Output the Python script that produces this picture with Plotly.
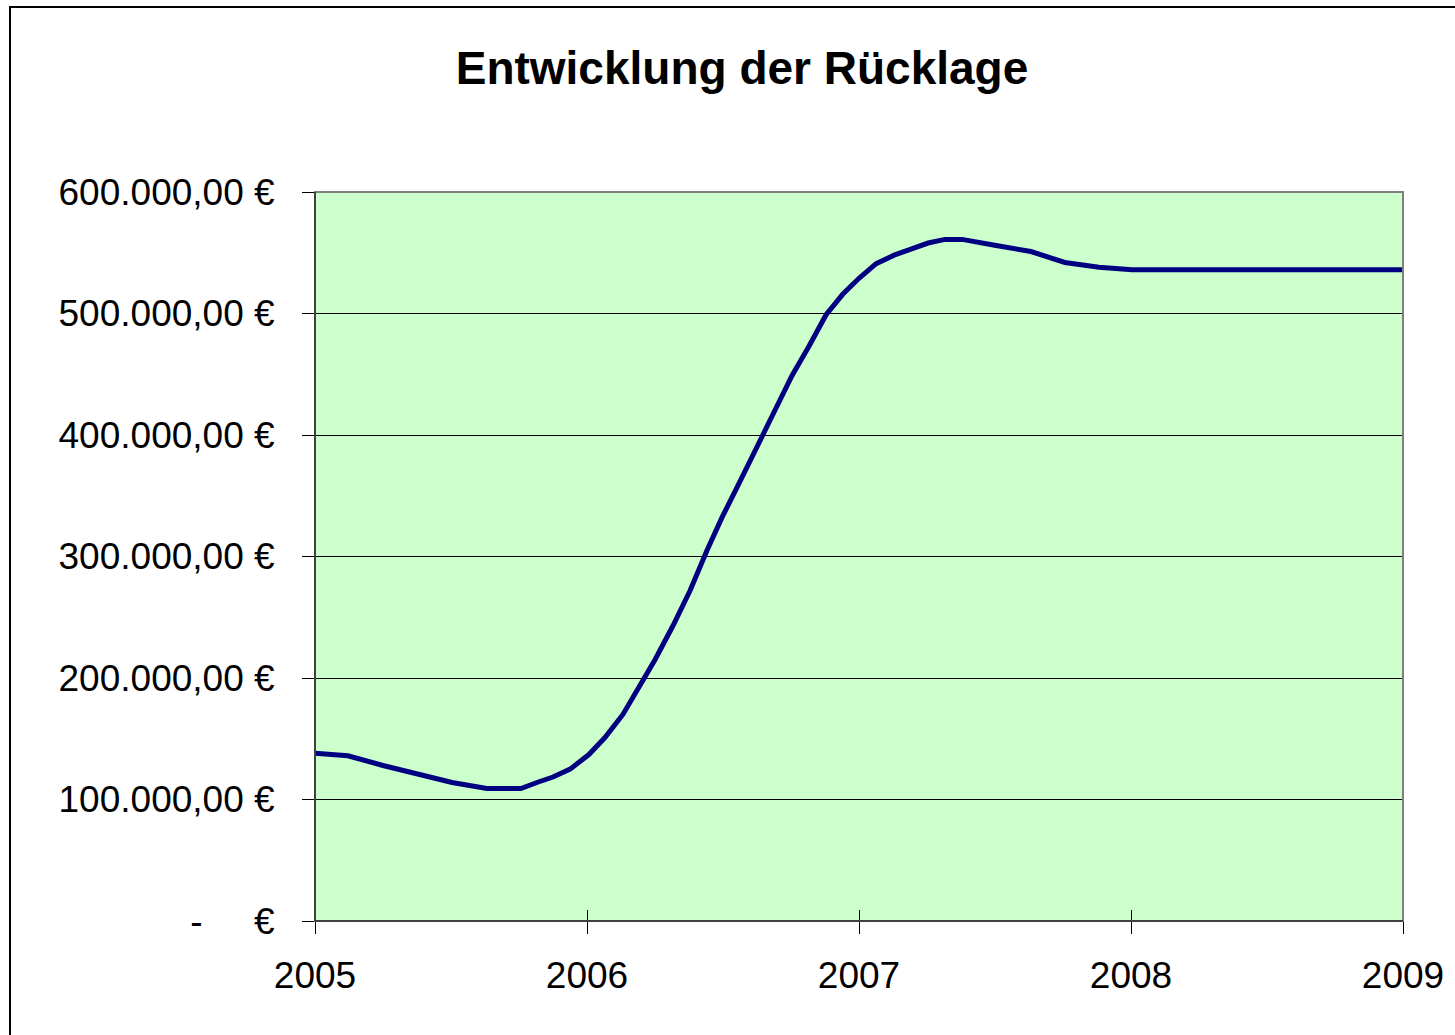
import plotly.graph_objects as go

# Data (x in decimal years, y in EUR)
years = [2005.000, 2005.121, 2005.250, 2005.379, 2005.504, 2005.632, 2005.757,
         2005.816, 2005.875, 2005.938, 2006.007, 2006.066, 2006.132, 2006.195,
         2006.250, 2006.316, 2006.379, 2006.441, 2006.496, 2006.563, 2006.625,
         2006.691, 2006.754, 2006.816, 2006.879, 2006.941, 2007.000, 2007.063,
         2007.129, 2007.191, 2007.254, 2007.316, 2007.379, 2007.504, 2007.632,
         2007.757, 2007.882, 2008.004, 2009.000]
ruecklage = [138000, 136000, 128000, 121000, 114000, 109000, 109000,
             114000, 118500, 125000, 137000, 151000, 170000, 194000,
             215000, 243000, 272000, 305000, 332000, 362000, 391000,
             420000, 449000, 473000, 499000, 516000, 529000, 541000,
             548000, 553000, 558000, 561000, 561000, 556000, 551000,
             542000, 538000, 536000, 536000]

x_ticks = [2005, 2006, 2007, 2008, 2009]
x_tick_labels = ["2005", "2006", "2007", "2008", "2009"]
y_ticks = [0, 100000, 200000, 300000, 400000, 500000, 600000]
y_tick_labels = ["-\u00a0\u00a0\u00a0\u00a0\u00a0€", "100.000,00 €", "200.000,00 €",
                 "300.000,00 €", "400.000,00 €", "500.000,00 €", "600.000,00 €"]

FONT = "Liberation Sans, Arial, sans-serif"
W, H = 1455, 1035

fig = go.Figure()
fig.add_trace(go.Scatter(
    x=years, y=ruecklage, mode="lines",
    line=dict(color="#000080", width=5),
    showlegend=False, hoverinfo="skip",
))
# invisible trace for the second (inside-tick) x axis
fig.add_trace(go.Scatter(x=[2005, 2009], y=[0, 0], xaxis="x2", mode="none",
                         showlegend=False, hoverinfo="skip"))

fig.update_layout(
    width=W, height=H,
    margin=dict(l=315, r=52, t=192, b=114, autoexpand=False),
    paper_bgcolor="white",
    plot_bgcolor="#CCFFCC",
    font=dict(family=FONT, size=37, color="black"),
    title=dict(text="<b>Entwicklung der Rücklage</b>", x=742 / W, xanchor="center",
               y=1 - 68 / H, yanchor="middle",
               font=dict(family=FONT, size=46, color="black")),
    xaxis=dict(range=[2005, 2009], tickvals=x_ticks, ticktext=x_tick_labels,
               showgrid=False, zeroline=False, showline=True, linecolor="black",
               linewidth=1, ticks="outside", ticklen=12, tickcolor="black",
               tickwidth=1, ticklabelstandoff=10),
    xaxis2=dict(range=[2005, 2009], overlaying="x", anchor="y", side="bottom",
                tickvals=x_ticks, showticklabels=False, showgrid=False,
                zeroline=False, showline=False, ticks="inside", ticklen=11,
                tickcolor="black", tickwidth=1),
    yaxis=dict(range=[0, 600000], tickvals=y_ticks, ticktext=y_tick_labels,
               showgrid=True, gridcolor="black", gridwidth=1, zeroline=False,
               showline=True, linecolor="black", linewidth=1,
               ticks="outside", ticklen=12, tickcolor="black", tickwidth=1,
               ticklabelstandoff=20),
    shapes=[
        # gray plot-area frame (top and right)
        dict(type="rect", xref="paper", yref="paper", x0=0, x1=1, y0=0, y1=1,
             line=dict(color="#808080", width=2), layer="above"),
        # outer chart border
        dict(type="rect", xref="paper", yref="paper",
             x0=(10 - 315) / 1088, x1=2.0, y0=-1.0, y1=(921 - 7) / 729,
             line=dict(color="black", width=2), layer="above"),
    ],
)
# redraw black left/bottom axis lines on top of gray frame
fig.add_shape(type="line", xref="paper", yref="paper", x0=0, x1=0, y0=0, y1=1,
              line=dict(color="black", width=1), layer="above")
fig.add_shape(type="line", xref="paper", yref="paper", x0=0, x1=1, y0=0, y1=0,
              line=dict(color="black", width=1), layer="above")

fig.write_html("out.html",
               config={"displayModeBar": False},
               post_script="document.body.style.margin='0';"
                           "document.body.style.overflow='hidden';")
